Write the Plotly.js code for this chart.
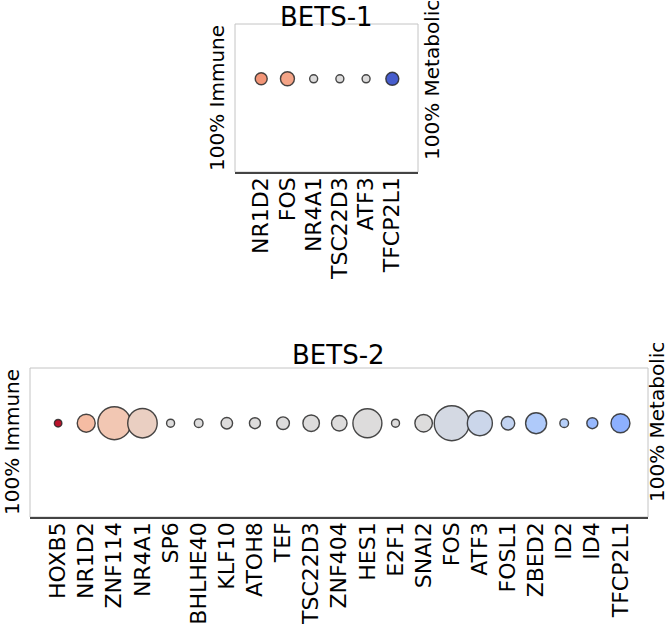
<!DOCTYPE html>
<html>
<head>
<meta charset="utf-8">
<script src="https://cdn.plot.ly/plotly-3.0.1.min.js"></script>
<style>html,body{margin:0;padding:0;background:#fff;}#chart{width:670px;height:627px;}</style>
</head>
<body>
<div id="chart"></div>
<script>
// ---- data ----
const bets1Genes = ['NR1D2', 'FOS', 'NR4A1', 'TSC22D3', 'ATF3', 'TFCP2L1'];
const bets1Size = [12, 14, 8, 8, 8, 13];
const bets1Score = [0.76, 0.72, 0.5, 0.5, 0.5, 0.04]; // 0 = metabolic, 1 = immune

const bets2Genes = ['HOXB5', 'NR1D2', 'ZNF114', 'NR4A1', 'SP6', 'BHLHE40', 'KLF10', 'ATOH8', 'TEF',
  'TSC22D3', 'ZNF404', 'HES1', 'E2F1', 'SNAI2', 'FOS', 'ATF3', 'FOSL1', 'ZBED2', 'ID2', 'ID4', 'TFCP2L1'];
const bets2Size = [7.5, 18, 33, 29.5, 8, 8.7, 11.5, 11, 12.7, 16.5, 15.5, 29, 8, 17.5, 35, 25, 13.5, 21, 8.7, 11, 19];
const bets2Score = [0.98, 0.65, 0.61, 0.57, 0.5, 0.5, 0.5, 0.5, 0.5, 0.5, 0.5, 0.5, 0.5, 0.5,
  0.47, 0.44, 0.41, 0.35, 0.37, 0.28, 0.25];

const titles = ['BETS-1', 'BETS-2'];
const leftLabel = '100% Immune';
const rightLabel = '100% Metabolic';

// ---- style ----
const coolwarm = [
  [0.000, 'rgb(58,76,192)'],
  [0.125, 'rgb(98,130,234)'],
  [0.250, 'rgb(141,176,254)'],
  [0.375, 'rgb(184,208,249)'],
  [0.500, 'rgb(221,220,220)'],
  [0.625, 'rgb(245,196,173)'],
  [0.750, 'rgb(244,154,123)'],
  [0.875, 'rgb(222,96,76)'],
  [1.000, 'rgb(180,4,38)']
];
const FONT = 'DejaVu Sans, Liberation Sans, sans-serif';

function bubbleTrace(genes, sizes, scores, xa, ya) {
  return {
    type: 'scatter', mode: 'markers',
    x: genes, y: genes.map(() => 0),
    xaxis: xa, yaxis: ya,
    marker: {
      size: sizes, sizemode: 'diameter',
      color: scores, colorscale: coolwarm, cmin: 0, cmax: 1, showscale: false,
      line: {color: 'rgba(40,40,40,0.85)', width: 1.4}, opacity: 1
    },
    hoverinfo: 'skip'
  };
}

const data = [
  bubbleTrace(bets1Genes, bets1Size, bets1Score, 'x', 'y'),
  bubbleTrace(bets2Genes, bets2Size, bets2Score, 'x2', 'y2')
];

function xAxis(domain, anchor, genes) {
  return {
    domain: domain, anchor: anchor, type: 'category', range: [-1, genes.length - 0.02],
    categoryorder: 'array', categoryarray: genes,
    tickmode: 'array', tickvals: genes, ticktext: genes,
    showgrid: false, zeroline: false, showline: true, linecolor: '#444', linewidth: 1.5,
    ticks: '', ticklen: 0, tickangle: -90, ticklabelstandoff: -5,
    tickfont: {family: FONT, size: 22, color: '#000'},
    automargin: false, fixedrange: true
  };
}
function yAxis(domain, anchor) {
  return {
    domain: domain, anchor: anchor, range: [-1.7, 1],
    showgrid: false, zeroline: false, showline: false, showticklabels: false, ticks: '',
    automargin: false, fixedrange: true
  };
}

const W = 670, H = 627;
const px = v => v / W, py = v => 1 - v / H;

function frame(xr, yr) {
  return {type: 'rect', xref: xr + ' domain', yref: yr + ' domain', x0: 0, x1: 1, y0: 0, y1: 1,
    line: {color: '#c4c4c4', width: 1}, layer: 'below'};
}
function ann(text, x, y, size, angle, yanchor) {
  return {text: text, x: x, y: y, xref: 'paper', yref: 'paper', showarrow: false,
    xanchor: 'center', yanchor: yanchor || 'middle', textangle: angle || 0,
    font: {family: FONT, size: size, color: '#000'}};
}

const layout = {
  width: W, height: H,
  margin: {l: 0, r: 0, t: 0, b: 0},
  paper_bgcolor: '#fff', plot_bgcolor: '#fff',
  showlegend: false,
  xaxis: xAxis([px(235), px(418)], 'y', bets1Genes),
  yaxis: yAxis([py(172), py(24)], 'x'),
  xaxis2: xAxis([px(30), px(648)], 'y2', bets2Genes),
  yaxis2: yAxis([py(517), py(368)], 'x2'),
  shapes: [frame('x', 'y'), frame('x2', 'y2')],
  annotations: [
    ann(titles[0], px(326.5), 1, 26, 0, 'top'),
    ann(titles[1], px(339), py(355), 26),
    ann(leftLabel, px(217), py(98), 20, -90),
    ann(rightLabel, px(432), py(80), 20, -90),
    ann(leftLabel, px(12), py(442), 20, -90),
    ann(rightLabel, px(657), py(422), 20, -90)
  ]
};

Plotly.newPlot('chart', data, layout, {staticPlot: true, displayModeBar: false});
</script>
</body>
</html>
